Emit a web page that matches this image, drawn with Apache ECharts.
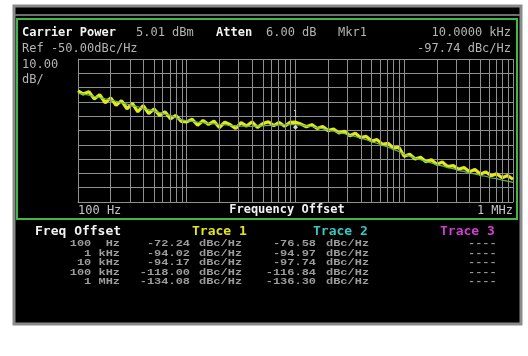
<!DOCTYPE html>
<html>
<head>
<meta charset="utf-8">
<script src="https://cdn.jsdelivr.net/npm/echarts@6/dist/echarts.min.js"></script>
<style>
  html, body { margin: 0; padding: 0; background: #fff; }
  #chart { width: 528px; height: 356px; }
</style>
</head>
<body>
<div id="chart"></div>
<script>
// frequency offsets (Hz) the traces are sampled at
var freqHz = [
  100, 112, 126, 141, 158, 178, 200, 224, 251, 282, 316, 355, 398, 447, 501, 562, 631, 708, 794, 891,
  1000, 1122, 1259, 1413, 1585, 1778, 1995, 2239, 2512, 2818, 3162, 3548, 3981, 4467, 5012, 5623, 6310, 7079, 7943, 8913,
  10000, 11220, 12589, 14125, 15849, 17783, 19953, 22387, 25119, 28184, 31623, 35481, 39811, 44668, 50119, 56234, 63096, 70795, 79433, 89125,
  100000, 112202, 125893, 141254, 158489, 177828, 199526, 223872, 251189, 281838, 316228, 354813, 398107, 446684, 501187, 562341, 630957, 707946, 794328, 891251, 1000000
];
// Trace 1 (yellow, noisy)
var trace1 = [
  -72.2, -74.5, -72.8, -77.9, -75.0, -80.6, -77.2, -82.4, -79.1, -84.8, -81.0, -86.9, -82.6, -88.1, -85.0, -89.4, -86.9, -91.8, -89.5, -93.6,
  -94.0, -92.1, -96.3, -93.0, -95.8, -93.4, -97.9, -94.1, -96.0, -98.6, -94.5, -96.9, -94.0, -97.8, -95.2, -93.9, -96.6, -94.4, -97.0, -94.3,
  -94.2, -95.5, -97.4, -95.9, -98.6, -97.2, -100.1, -98.9, -101.8, -100.6, -103.7, -101.9, -105.0, -104.1, -107.3, -106.4, -109.7, -108.9, -112.2, -111.8,
  -118.0, -116.6, -119.9, -118.7, -121.9, -120.4, -123.7, -122.0, -125.3, -124.6, -127.1, -125.9, -128.8, -127.3, -130.4, -129.0, -131.6, -130.2, -133.1, -131.5, -134.1
];
// Trace 2 (averaged, smoother)
var trace2 = [
  -74.0, -74.6, -75.3, -76.2, -77.0, -77.9, -78.7, -79.6, -80.6, -81.5, -82.6, -83.4, -84.6, -85.4, -86.6, -87.4, -88.6, -89.4, -91.1, -92.4,
  -93.2, -93.6, -94.2, -94.5, -95.2, -95.3, -95.8, -96.0, -96.5, -96.6, -97.0, -96.9, -97.2, -96.8, -96.8, -96.4, -96.4, -96.0, -96.1, -95.7,
  -96.0, -96.1, -96.9, -97.2, -98.2, -98.7, -99.8, -100.4, -101.6, -102.2, -103.5, -104.2, -105.6, -106.4, -107.9, -108.9, -110.5, -111.5, -113.2, -114.7,
  -116.8, -117.9, -119.5, -120.4, -121.8, -122.6, -124.0, -124.7, -126.0, -126.7, -128.0, -128.6, -129.8, -130.4, -131.5, -132.0, -133.2, -133.7, -134.8, -135.4, -136.3
];
// log grid lines between decades
var minorTicks = [
  200, 300, 400, 500, 600, 700, 800, 900,
  2000, 3000, 4000, 5000, 6000, 7000, 8000, 9000,
  20000, 30000, 40000, 50000, 60000, 70000, 80000, 90000,
  200000, 300000, 400000, 500000, 600000, 700000, 800000, 900000
];
var marker1 = [10000, -97.74];

// table under the plot
var tableOffsets = ['100 Hz', '1 kHz', '10 kHz', '100 kHz', '1 MHz'];
var tableTrace1 = [-72.24, -94.02, -94.17, -118.00, -134.08];
var tableTrace2 = [-76.58, -94.97, -97.74, -116.84, -136.30];

var MONO = '"DejaVu Sans Mono", "Liberation Mono", monospace';
var grey = '#b4b4b4';
var white = '#f2f2f2';

function txt(x, y, s, color, font, align, sx) {
  return {
    type: 'text', x: x, y: y, z: 5, scaleX: sx || 1,
    style: { text: s, fill: color, font: font, textAlign: align || 'left', textVerticalAlign: 'middle' }
  };
}

var graphics = [
  // outer instrument frame
  { type: 'rect', z: 0, shape: { x: 14, y: 6, width: 507, height: 318 },
    style: { fill: '#000', stroke: '#8a8a8a', lineWidth: 3 } },
  { type: 'line', z: 1, shape: { x1: 15, y1: 15, x2: 520, y2: 15 },
    style: { stroke: '#6e6e6e', lineWidth: 2 } },
  { type: 'rect', z: 1, shape: { x: 17, y: 19, width: 500, height: 200 },
    style: { fill: 'none', stroke: '#3fb84a', lineWidth: 2 } },

  txt(22, 33, 'Carrier Power', white, 'bold 12px ' + MONO),
  txt(136, 33, '5.01 dBm', grey, '12px ' + MONO),
  txt(216, 33, 'Atten', white, 'bold 12px ' + MONO),
  txt(266, 33, '6.00 dB', grey, '12px ' + MONO),
  txt(338, 33, 'Mkr1', grey, '12px ' + MONO),
  txt(511, 33, '10.0000 kHz', grey, '12px ' + MONO, 'right'),
  txt(22, 49, 'Ref -50.00dBc/Hz', grey, '12px ' + MONO),
  txt(511, 49, marker1[1].toFixed(2) + ' dBc/Hz', grey, '12px ' + MONO, 'right'),
  txt(22, 65, '10.00', grey, '12px ' + MONO),
  txt(22, 80, 'dB/', grey, '12px ' + MONO),
  txt(287, 210, 'Frequency Offset', white, 'bold 12px ' + MONO, 'center'),

  txt(35, 232, 'Freq Offset', white, 'bold 13px ' + MONO),
  txt(192, 232, 'Trace 1', '#e4e41c', 'bold 13px ' + MONO),
  txt(313, 232, 'Trace 2', '#36c8c0', 'bold 13px ' + MONO),
  txt(440, 232, 'Trace 3', '#d23cd2', 'bold 13px ' + MONO)
];

var rowY = [244, 253.5, 263, 272.5, 282];
tableOffsets.forEach(function (lab, i) {
  var parts = lab.split(' ');
  var s = parts[0].padStart(3) + ' ' + parts[1].padStart(3);
  var f = 'bold 9px "Liberation Mono", monospace';
  var c = '#9c9c9c';
  var k = 1.33;
  graphics.push(txt(120, rowY[i], s, c, f, 'right', k));
  graphics.push(txt(190, rowY[i], tableTrace1[i].toFixed(2), c, f, 'right', k));
  graphics.push(txt(199, rowY[i], 'dBc/Hz', c, f, 'left', k));
  graphics.push(txt(316, rowY[i], tableTrace2[i].toFixed(2), c, f, 'right', k));
  graphics.push(txt(326, rowY[i], 'dBc/Hz', c, f, 'left', k));
  graphics.push(txt(468, rowY[i], '----', c, f, 'left', k));
});

function pairs(ys) {
  return freqHz.map(function (f, i) { return [f, ys[i]]; });
}

var chart = echarts.init(document.getElementById('chart'));
chart.setOption({
  backgroundColor: '#ffffff',
  animation: false,
  graphic: { elements: graphics },
  grid: { left: 78, top: 59, width: 435, height: 143 },
  xAxis: {
    type: 'log', logBase: 10, min: 100, max: 1000000,
    axisLine: { show: true, lineStyle: { color: '#8f8f8f', width: 1 } },
    axisTick: { show: false },
    axisLabel: {
      color: '#c4c4c4', fontFamily: MONO, fontSize: 12, margin: 3,
      showMinLabel: true, showMaxLabel: true,
      alignMinLabel: 'left', alignMaxLabel: 'right',
      formatter: function (v) {
        if (Math.abs(v - 100) < 1) return '100 Hz';
        if (Math.abs(v - 1000000) < 1) return '1 MHz';
        return '';
      }
    },
    splitLine: { show: true, lineStyle: { color: '#8f8f8f', width: 1 } }
  },
  yAxis: {
    type: 'value', min: -150, max: -50, interval: 10,
    axisLine: { show: true, lineStyle: { color: '#8f8f8f', width: 1 } },
    axisTick: { show: false },
    axisLabel: { show: false },
    splitLine: { show: true, lineStyle: { color: '#8f8f8f', width: 1 } }
  },
  series: [
    {
      // minor log grid
      type: 'line', data: [], z: 1, silent: true,
      markLine: {
        silent: true, symbol: 'none', animation: false,
        label: { show: false },
        lineStyle: { color: '#8f8f8f', width: 1, type: 'solid' },
        data: minorTicks.map(function (t) { return { xAxis: t }; })
      }
    },
    {
      name: 'Trace 1', type: 'line', z: 3, data: pairs(trace1),
      symbol: 'none', lineStyle: { color: '#e6e61e', width: 3.2 }
    },
    {
      name: 'Trace 2', type: 'line', z: 4, data: pairs(trace2),
      symbol: 'none', lineStyle: { color: '#5cbf42', width: 1.2 },
      markPoint: {
        symbol: 'diamond', symbolSize: 5,
        itemStyle: { color: '#d8d8d8' },
        label: { show: true, formatter: '1', color: '#d0d0d0', fontSize: 8, fontFamily: MONO, offset: [0, -12], position: 'inside' },
        data: [{ coord: marker1 }]
      }
    }
  ]
});
</script>
</body>
</html>
